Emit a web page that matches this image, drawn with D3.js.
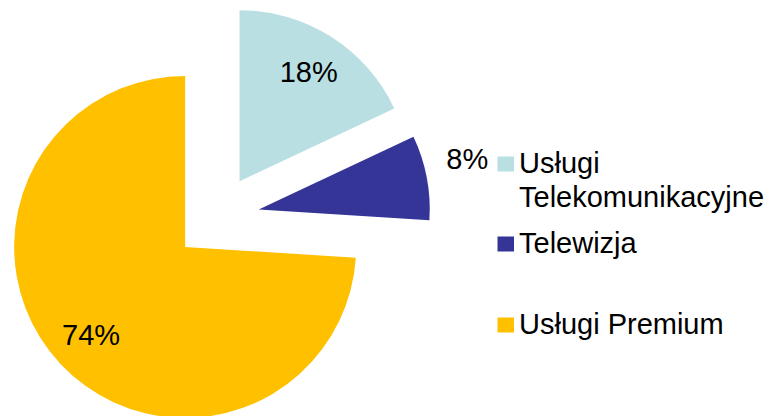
<!DOCTYPE html>
<html>
<head>
<meta charset="utf-8">
<script src="https://cdn.jsdelivr.net/npm/d3@7"></script>
<style>
  html, body { margin: 0; padding: 0; background: #fff; }
  svg { display: block; }
  text { font-family: Arial, "Liberation Sans", sans-serif; fill: #000; }
</style>
</head>
<body>
<svg id="chart" width="775" height="416"></svg>
<script>
const categories = ["Usługi Telekomunikacyjne", "Telewizja", "Usługi Premium"];
const legendLines = [["Usługi", "Telekomunikacyjne"], ["Telewizja"], ["Usługi Premium"]];
const values = [18, 8, 74];
const labels = ["18%", "8%", "74%"];
const colors = ["#BADFE2", "#353598", "#FFC000"];

const svg = d3.select("#chart");
const cx = 216.5, cy = 217.5, r = 171, explode = 43;

const pie = d3.pie().sort(null).value(d => d).startAngle(0).endAngle(2 * Math.PI);
const arcs = pie(values);
const arc = d3.arc().innerRadius(0).outerRadius(r);

const g = svg.append("g");
arcs.forEach((a, i) => {
  const mid = (a.startAngle + a.endAngle) / 2;
  const ox = cx + explode * Math.sin(mid);
  const oy = cy - explode * Math.cos(mid);
  const sg = g.append("g").attr("transform", `translate(${ox},${oy})`);
  sg.append("path").attr("d", arc(a)).attr("fill", colors[i]);
  const outside = (a.endAngle - a.startAngle) < 0.6;
  const lr = outside ? r * 1.255 : r * 0.755;
  const la = mid - (outside ? 0.05 : 0);
  sg.append("text")
    .attr("x", lr * Math.sin(la)).attr("y", -lr * Math.cos(la)).attr("dy", "0.35em")
    .attr("text-anchor", "middle")
    .style("font-size", "29px")
    .text(labels[i]);
});

// Legend
const legendY = [173, 253, 334];
const leg = svg.append("g");
legendLines.forEach((lines, i) => {
  leg.append("rect")
    .attr("x", 497.5).attr("y", legendY[i] - 16.5)
    .attr("width", 16.5).attr("height", 15)
    .attr("fill", colors[i]);
  const t = leg.append("text").attr("x", 519).attr("y", legendY[i]).style("font-size", "29px");
  lines.forEach((ln, j) => {
    t.append("tspan").attr("x", 519).attr("dy", j === 0 ? 0 : 34).text(ln);
  });
});
</script>
</body>
</html>
